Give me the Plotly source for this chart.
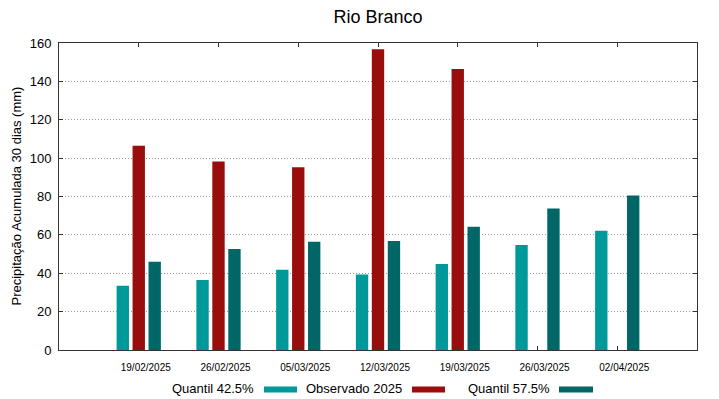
import plotly.graph_objects as go

# ---- data ----
dates = ["19/02/2025", "26/02/2025", "05/03/2025", "12/03/2025",
         "19/03/2025", "26/03/2025", "02/04/2025"]
q425 = [33.5, 36.5, 41.8, 39.4, 44.8, 54.7, 62.1]
obs2025 = [106.4, 98.3, 95.3, 156.8, 146.4, None, None]
q575 = [46.0, 52.6, 56.4, 56.8, 64.2, 73.8, 80.5]
names = ["Quantil 42.5%", "Observado 2025", "Quantil 57.5%"]
colors = ["#009999", "#990d0d", "#006666"]
title = "Rio Branco"
ytitle = "Precipitação Acumulada 30 dias (mm)"

FONT = "Liberation Sans, Arial, sans-serif"
W, H = 719, 399
ML, MR, MT, MB = 59, 22, 43, 49
PW, PH = W - ML - MR, H - MT - MB

xs = list(range(len(dates)))
bw = 0.155
offs = [-0.2, 0.0, 0.2]

fig = go.Figure()
for name, vals, col, o in zip(names, [q425, obs2025, q575], colors, offs):
    fig.add_trace(go.Bar(
        x=xs, y=vals, name=name, width=bw, offset=o - bw / 2,
        marker=dict(color=col, line=dict(width=0)),
        showlegend=False,
    ))

# invisible trace to activate xaxis2 (tick labels slightly offset, gnuplot-style)
fig.add_trace(go.Scatter(x=[0], y=[0], xaxis="x2", mode="markers",
                         marker=dict(opacity=0), showlegend=False, hoverinfo="skip"))

fig.update_layout(
    width=W, height=H,
    margin=dict(l=ML, r=MR, t=MT, b=MB, pad=0, autoexpand=False),
    paper_bgcolor="white", plot_bgcolor="white",
    barmode="overlay",
    font=dict(family=FONT, color="#000000"),
    title=dict(text=title, x=(ML + PW / 2) / W, xanchor="center",
               y=1 - 17 / H, yanchor="middle",
               font=dict(size=18, family=FONT, color="#000000")),
    xaxis=dict(range=[-1, 7], tickvals=xs, ticktext=["" for _ in xs],
               showgrid=False, zeroline=False,
               showline=True, linecolor="#333333", linewidth=1, mirror="ticks",
               ticks="inside", ticklen=4, tickcolor="#333333"),
    xaxis2=dict(range=[-1, 7], overlaying="x", side="bottom",
                tickvals=[i + 0.088 for i in xs], ticktext=dates,
                showgrid=False, zeroline=False, showline=False, ticks="",
                ticklabelstandoff=10,
                tickfont=dict(size=10, family=FONT, color="#000000")),
    yaxis=dict(range=[0, 160], dtick=20, tick0=0,
               showgrid=True, gridcolor="#999999", griddash="1px,2px", gridwidth=1,
               zeroline=False,
               showline=True, linecolor="#333333", linewidth=1, mirror="ticks",
               ticks="inside", ticklen=4, tickcolor="#333333",
               ticklabelstandoff=4,
               tickfont=dict(size=13, family=FONT, color="#000000")),
)

# y-axis title as rotated annotation
fig.add_annotation(text=ytitle, xref="paper", yref="paper",
                   x=(16 - ML) / PW, y=0.5, textangle=-90,
                   xanchor="center", yanchor="middle", showarrow=False,
                   font=dict(size=13, family=FONT, color="#000000"))

# gnuplot-style key: text then sample, below the plot
def px(x):
    return (x - ML) / PW

def py(y):
    return (H - MB - y) / PH

text_right = [256, 404, 552]
sample_x = [(264, 297), (412, 445), (559, 593)]
for name, col, tr, (s0, s1) in zip(names, colors, text_right, sample_x):
    fig.add_annotation(text=name, xref="paper", yref="paper",
                       x=px(tr), y=py(388), xanchor="right", yanchor="middle",
                       showarrow=False, font=dict(size=13, family=FONT, color="#000000"))
    fig.add_shape(type="rect", xref="paper", yref="paper",
                  x0=px(s0), x1=px(s1), y0=py(386.5), y1=py(392.5),
                  fillcolor=col, line=dict(width=0))

fig.write_html("out.html", config={"displayModeBar": False},
               post_script="document.body.style.margin='0px';")
